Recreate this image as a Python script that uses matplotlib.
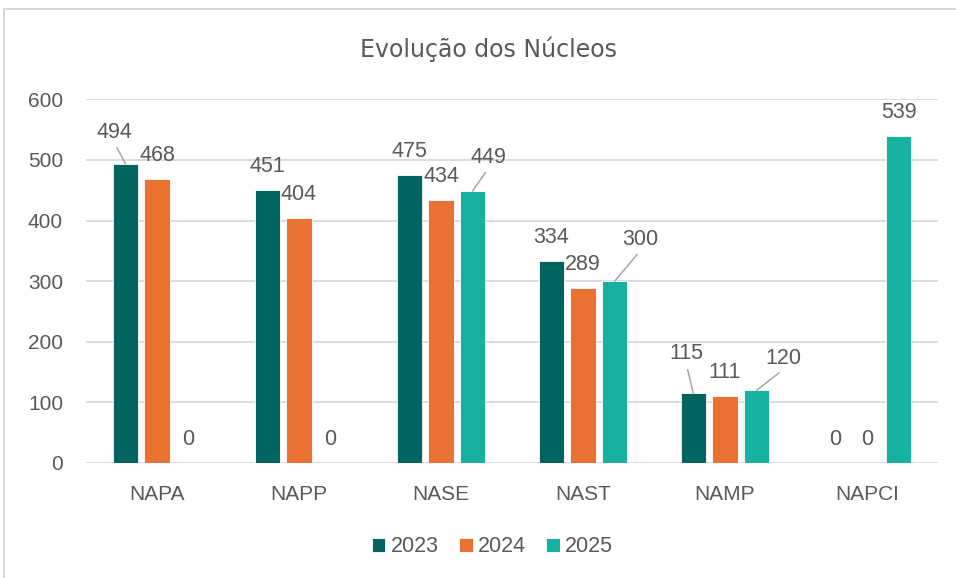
import numpy as np
import matplotlib.pyplot as plt
from matplotlib.patches import Rectangle

categories = ["NAPA", "NAPP", "NASE", "NAST", "NAMP", "NAPCI"]
series_names = ["2023", "2024", "2025"]
values_2023 = [494, 451, 475, 334, 115, 0]
values_2024 = [468, 404, 434, 289, 111, 0]
values_2025 = [0, 0, 449, 300, 120, 539]
y_ticks = [0, 100, 200, 300, 400, 500, 600]

colors = ["#03645F", "#E97132", "#17B1A1"]
text_color = "#595959"
grid_color = "#D9D9D9"

# label offsets (pixels) relative to the top of each bar; Excel moved a few of them
default_off = (0, 26)
moved = {
    (0, 0): (-11, 34),
    (2, 2): (16, 36),
    (3, 2): (26, 44),
    (4, 0): (-7, 42),
    (4, 2): (27, 34),
}

plt.rcParams["font.family"] = ["Liberation Sans", "DejaVu Sans"]

fig = plt.figure(figsize=(9.56, 5.78), dpi=100)
ax = fig.add_axes([86 / 956, 1 - 463 / 578, 852 / 956, 363.6 / 578])

# outer chart border
fig.patches.append(Rectangle((4 / 956, -0.1), 1.2, 1.1 - 9 / 578, transform=fig.transFigure,
                             fill=False, edgecolor="#D0D0D0", linewidth=1.2))

x = np.arange(len(categories))
width = 0.18
step = 0.223
all_vals = [values_2023, values_2024, values_2025]

for s, (name, vals) in enumerate(zip(series_names, all_vals)):
    xs = x + (s - 1) * step
    ax.bar(xs, vals, width, color=colors[s], edgecolor="white", linewidth=0.6,
           label=name, zorder=3)
    for c, (xi, v) in enumerate(zip(xs, vals)):
        dx, dy = moved.get((c, s), default_off)
        if (c, s) in moved:
            ax.annotate(str(v), xy=(xi, v), xytext=(dx, dy), textcoords="offset pixels",
                        ha="center", va="center_baseline", fontsize=15.5, color=text_color,
                        arrowprops=dict(arrowstyle="-", color="#A6A6A6", lw=1.1,
                                        relpos=(0.5, 0.0), patchA=None,
                                        shrinkA=4, shrinkB=0))
        else:
            ax.annotate(str(v), xy=(xi, v), xytext=(dx, dy), textcoords="offset pixels",
                        ha="center", va="center_baseline", fontsize=15.5, color=text_color)

ax.set_xlim(-0.5, len(categories) - 0.5)
ax.set_ylim(0, 600)
ax.set_yticks(y_ticks)
ax.set_xticks(x)
ax.set_xticklabels(categories)
ax.tick_params(axis="both", length=0, labelsize=15, labelcolor=text_color)
ax.tick_params(axis="x", pad=16)
ax.tick_params(axis="y", pad=16.5)

ax.yaxis.grid(True, color=grid_color, linewidth=1.3, zorder=0)
ax.set_axisbelow(True)
for sp in ax.spines.values():
    sp.set_visible(False)

fig.text(488 / 956, 1 - 56.7 / 578, "Evolução dos Núcleos", ha="center", va="baseline",
         fontsize=17, color=text_color, family="DejaVu Sans")

fig.legend(loc="center", bbox_to_anchor=(492.5 / 956, 1 - 547 / 578), ncol=3,
           frameon=False, fontsize=15.5, handlelength=0.64, handleheight=0.64,
           handletextpad=0.25, columnspacing=0.93, labelcolor=text_color)

fig.savefig("out.png", dpi=100)
